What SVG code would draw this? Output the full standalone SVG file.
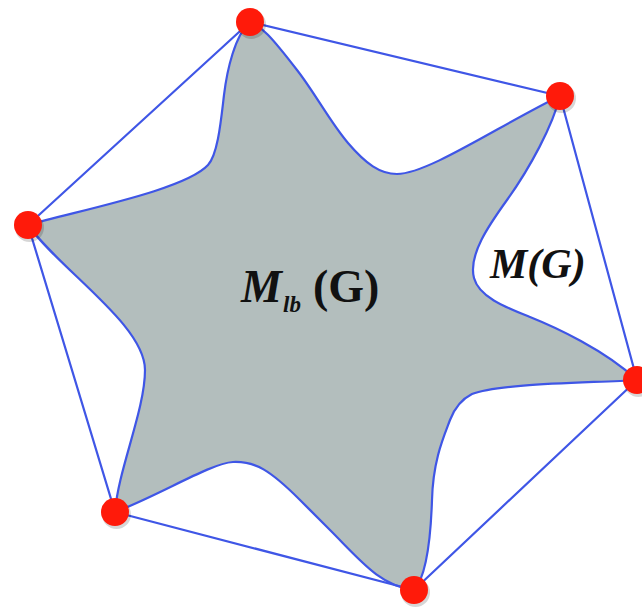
<svg xmlns="http://www.w3.org/2000/svg" width="642" height="609" viewBox="0 0 642 609">
<defs>
<style>
.edge{stroke:#3f56e6;stroke-width:2.2;fill:none;stroke-linecap:round}
.star{fill:#b3bebd;stroke:#3f56e6;stroke-width:2.2;stroke-linejoin:round}
.dot{fill:#ff1a0a}
.sh{fill:#000;opacity:0.16}
.lbl{font-family:"Liberation Serif","Times New Roman",serif;font-weight:bold;fill:#111}
</style>
</defs>
<rect width="642" height="609" fill="#ffffff"/>
<g id="region-M-lb">
<path class="star" d="M250,22 C262,27 270,35 297,70 C315,93 330,122 348,143 C366,164 380,174 397,174 C428,174 500,125 560,96 C553,125 530,168 507,200 C489,225 468,255 474,278 C479,297 505,307 530,317 C555,327 605,350 637,380 C590,383 500,383 472,394 C462,399 455,407 450,420 C444,436 433,460 432,500 C431,530 428,575 414,590 C380,586 360,560 330,530 C315,515 310,510 300,500 C270,470 255,461 233,462 C211,463 160,495 115,512 C118,470 145,410 145,370 C145,325 60,270 28,225 C80,210 185,190 208,165 C218,154 221,120 224,95 C227,70 235,35 250,22 Z"/>
</g>
<g id="connectors">
<path class="edge" d="M250,22 L560,96"/>
<path class="edge" d="M560,96 L637,380"/>
<path class="edge" d="M637,380 L414,590"/>
<path class="edge" d="M414,590 L115,512"/>
<path class="edge" d="M115,512 L28,225"/>
<path class="edge" d="M28,225 L250,22"/>
</g>
<g id="v1"><circle class="sh" cx="251.5" cy="24.5" r="14.5"/><circle class="dot" cx="250" cy="22" r="14"/></g>
<g id="v2"><circle class="sh" cx="561.5" cy="98.5" r="14.5"/><circle class="dot" cx="560" cy="96" r="14"/></g>
<g id="v3"><circle class="sh" cx="29.5" cy="227.5" r="14.5"/><circle class="dot" cx="28" cy="225" r="14"/></g>
<g id="v4"><circle class="sh" cx="638.5" cy="382.5" r="14.5"/><circle class="dot" cx="637" cy="380" r="14"/></g>
<g id="v5"><circle class="sh" cx="116.5" cy="514.5" r="14.5"/><circle class="dot" cx="115" cy="512" r="14"/></g>
<g id="v6"><circle class="sh" cx="415.5" cy="592.5" r="14.5"/><circle class="dot" cx="414" cy="590" r="14"/></g>
<g id="label-mlb">
<text class="lbl" y="302" font-size="46"><tspan x="241" font-style="italic">M</tspan><tspan x="283" y="312" font-style="italic" font-size="23">lb</tspan><tspan x="313" y="302">(G)</tspan></text>
</g>
<g id="label-mg">
<text class="lbl" x="490" y="278" font-size="42" font-style="italic">M(G)</text>
</g>
</svg>
